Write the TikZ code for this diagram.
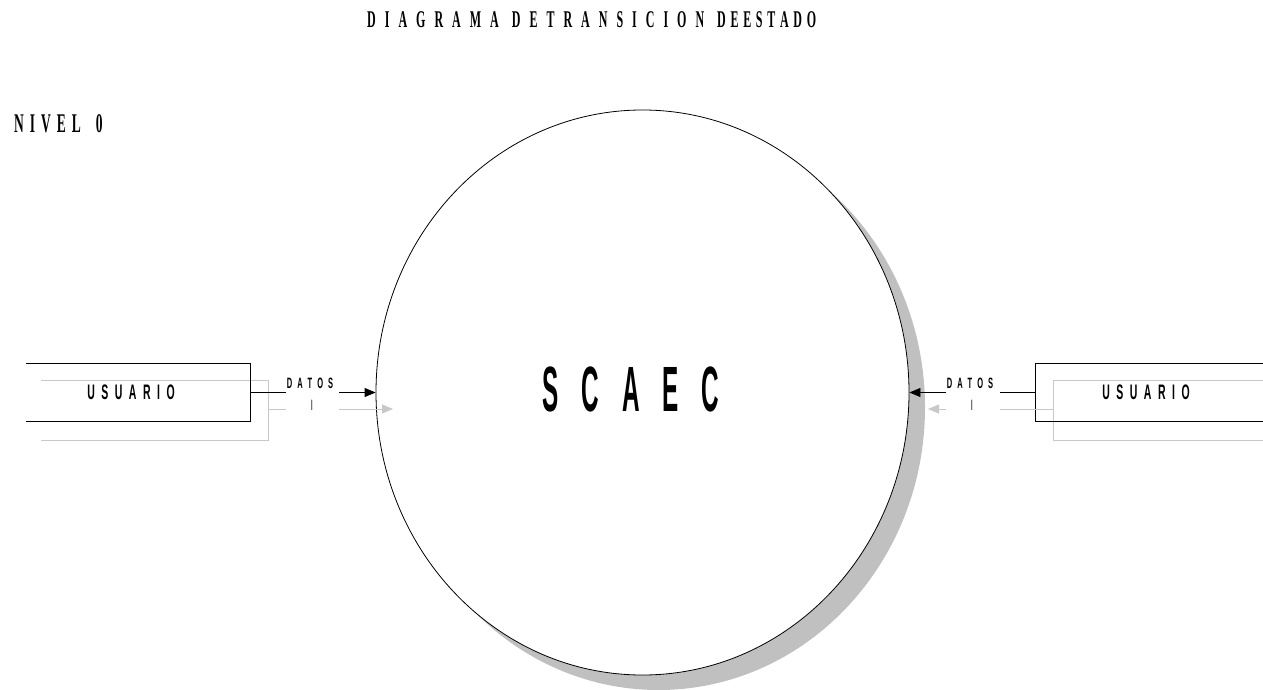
\documentclass[tikz,border=0pt]{standalone}
\usepackage{fontspec}
\usetikzlibrary{arrows.meta,shapes.geometric}
\newfontfamily\titlefont[FakeStretch=0.5]{Liberation Serif}
\newfontfamily\sansA[FakeStretch=0.5]{Liberation Sans}
\newfontfamily\sansB[FakeStretch=0.38]{Liberation Sans}
\definecolor{shadowgray}{RGB}{192,192,192}
\definecolor{linegray}{RGB}{200,200,200}
\newcommand\myspace[1]{\spaceskip=#1\relax}
\tikzset{
  titletext/.style={inner sep=0pt, font=\titlefont\bfseries\fontsize{24}{24}\selectfont},
  niveltext/.style={inner sep=0pt, font=\titlefont\bfseries\fontsize{27}{27}\selectfont},
  entitytext/.style={inner sep=0pt, font=\sansA\bfseries\fontsize{21}{21}\selectfont},
  flowtext/.style={inner sep=0pt, font=\sansA\bfseries\fontsize{15}{15}\selectfont},
  bartext/.style={inner sep=0pt, font=\sansA\fontsize{15}{15}\selectfont},
  bigtext/.style={inner sep=0pt, font=\sansB\bfseries\fontsize{64}{64}\selectfont},
  boxline/.style={draw=black, line width=0.8pt},
  grayline/.style={draw=linegray, line width=0.8pt},
  blackarrow/.style={draw=black, line width=0.8pt, -{Triangle[length=11pt,width=9pt]}},
  grayarrow/.style={draw=linegray, line width=0.8pt, -{Triangle[length=11pt,width=9pt,color=linegray]}},
}
\begin{document}
\begin{tikzpicture}[x=1pt,y=-1pt]
\useasboundingbox (0,0) rectangle (1263,690);
% title
\node[titletext, anchor=west] (title) at (367,20) {{\myspace{9pt}D I A G R A M A}\hspace{13pt}{\myspace{9pt}D E T R A N S I C I O N}\hspace{13pt}{\myspace{4.7pt}D E E S T A D O}};
\node[niveltext, anchor=west] (nivel) at (14,124) {{\myspace{6pt}N I V E L}\hspace{15pt}0};
% shadow and process
\fill[shadowgray] (658.5,407.5) ellipse [x radius=266.5, y radius=282.5];
\node[draw=black, fill=white, line width=0.8pt, ellipse, inner sep=0pt, minimum width=533pt, minimum height=565pt] (proc) at (642.5,392.5) {};
\node[bigtext] (scaec) at (631,389) {\myspace{23pt}S C A E C};
% left entity
\node[inner sep=0pt, minimum width=224pt, minimum height=57pt] (u1) at (138,392.5) {};
\node[inner sep=0pt, minimum width=227pt, minimum height=59pt] (g1) at (154.5,410.5) {};
\draw[grayline] (g1.north west) -- (g1.north east) -- (g1.south east) -- (g1.south west);
\draw[boxline] (u1.north west) -- (u1.north east) -- (u1.south east) -- (u1.south west);
\node[entitytext] (u1t) at (131,392) {\myspace{6.5pt}U S U A R I O};
% right entity
\node[inner sep=0pt, minimum width=227pt, minimum height=57pt] (u2) at (1149.5,392.5) {};
\node[inner sep=0pt, minimum width=209pt, minimum height=59pt] (g2) at (1158.5,410.5) {};
\draw[grayline] (g2.north east) -- (g2.north west) -- (g2.south west) -- (g2.south east);
\draw[boxline] (u2.north east) -- (u2.north west) -- (u2.south west) -- (u2.south east);
\node[entitytext] (u2t) at (1146,392) {\myspace{6.5pt}U S U A R I O};
% left flows
\coordinate (l1a) at (286,392.5);
\coordinate (l1b) at (339,392.5);
\coordinate (l2a) at (286,409);
\coordinate (l2b) at (339,409);
\coordinate (l2c) at (393,409);
\draw[boxline] (u1.east) -- (l1a);
\draw[blackarrow] (l1b) -- (proc.west);
\draw[grayline] (g1.east |- l2a) -- (l2a);
\draw[grayarrow] (l2b) -- (l2c);
\node[flowtext] (d1) at (310,383) {\myspace{5pt}D A T O S};
\node[bartext] (b1) at (312,405) {I};
% right flows
\coordinate (r1a) at (1000,392.5);
\coordinate (r1b) at (946,392.5);
\coordinate (r2a) at (1000,409);
\coordinate (r2b) at (946,409);
\coordinate (r2c) at (928,409);
\draw[boxline] (u2.west) -- (r1a);
\draw[blackarrow] (r1b) -- (proc.east);
\draw[grayline] (g2.west |- r2a) -- (r2a);
\draw[grayarrow] (r2b) -- (r2c);
\node[flowtext] (d2) at (970,383) {\myspace{5pt}D A T O S};
\node[bartext] (b2) at (972,405) {I};
\end{tikzpicture}
\end{document}
